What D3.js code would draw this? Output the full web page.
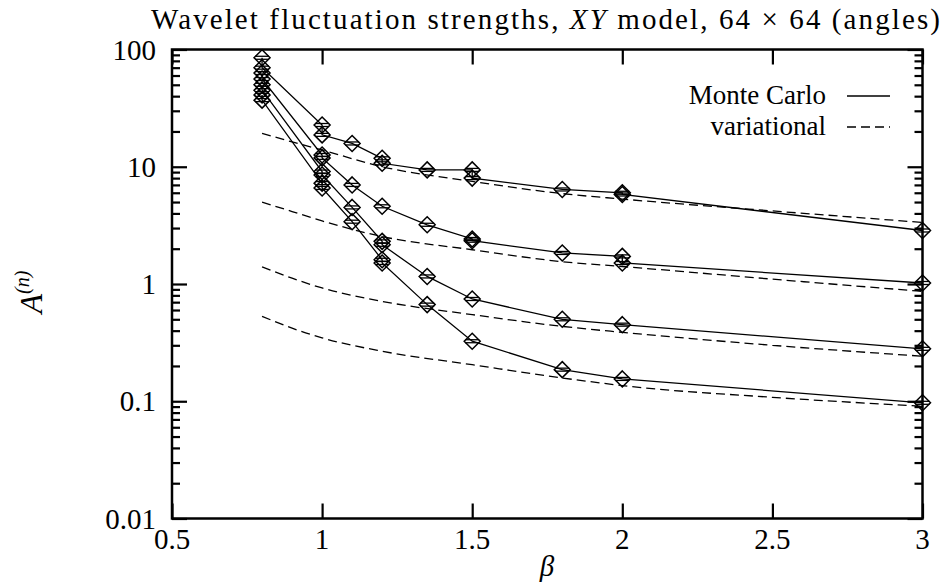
<!DOCTYPE html>
<html>
<head>
<meta charset="utf-8">
<script src="https://cdn.jsdelivr.net/npm/d3@7"></script>
<style>
  html, body { margin: 0; padding: 0; background: #ffffff; }
  svg { display: block; }
</style>
</head>
<body>
<div id="chart"></div>
<script>
// Monte Carlo points, one pair of arrays per mode n
const mc1Beta = [0.8, 0.8, 1.0, 1.0, 1.1, 1.2, 1.2, 1.35, 1.5, 1.5, 1.8, 2.0, 2.0, 3.0];
const mc1Val  = [85, 70, 22.7, 18.7, 15.8, 11.8, 10.7, 9.4, 9.4, 8.0, 6.4, 6.0, 5.8, 2.86];
const mc2Beta = [0.8, 0.8, 1.0, 1.0, 1.1, 1.2, 1.35, 1.5, 1.5, 1.8, 2.0, 2.0, 3.0];
const mc2Val  = [63, 56, 12.6, 11.9, 7.0, 4.6, 3.2, 2.42, 2.34, 1.84, 1.72, 1.51, 1.02];
const mc3Beta = [0.8, 0.8, 1.0, 1.0, 1.1, 1.2, 1.2, 1.35, 1.5, 1.8, 2.0, 3.0];
const mc3Val  = [50, 45, 9.1, 8.5, 4.5, 2.31, 2.16, 1.16, 0.745, 0.50, 0.45, 0.28];
const mc4Beta = [0.8, 0.8, 1.0, 1.0, 1.1, 1.2, 1.2, 1.35, 1.5, 1.8, 2.0, 3.0];
const mc4Val  = [41, 37, 7.25, 6.6, 3.4, 1.61, 1.51, 0.667, 0.325, 0.186, 0.155, 0.097];

// variational curves (dashed)
const varBeta = [0.8, 0.9, 1.0, 1.2, 1.5, 1.8, 2.0, 2.5, 3.0];
const var1 = [19.3, 16.3, 13.9, 10.0, 7.5, 5.9, 5.3, 4.2, 3.35];
const var2 = [5.0, 4.15, 3.45, 2.54, 1.96, 1.55, 1.41, 1.1, 0.865];
const var3 = [1.40, 1.12, 0.925, 0.711, 0.548, 0.435, 0.387, 0.30, 0.242];
const var4 = [0.53, 0.42, 0.347, 0.267, 0.205, 0.158, 0.136, 0.108, 0.0907];

const xTicks = [0.5, 1, 1.5, 2, 2.5, 3];
const xTickLabels = ["0.5", "1", "1.5", "2", "2.5", "3"];
const yTicks = [0.01, 0.1, 1, 10, 100];
const yTickLabels = ["0.01", "0.1", "1", "10", "100"];

const width = 948, height = 585;
const plotL = 172, plotR = 922.5, plotT = 49.5, plotB = 518.5;
const fontSize = 29;
const serif = "'Liberation Serif', 'Times New Roman', 'DejaVu Serif', serif";

const svg = d3.select("#chart").append("svg")
  .attr("width", width)
  .attr("height", height)
  .attr("font-family", serif)
  .style("font-family", serif);

const x = d3.scaleLinear().domain([0.5, 3]).range([plotL, plotR]);
const y = d3.scaleLog().domain([0.01, 100]).range([plotB, plotT]);

// minor log ticks
const yMinor = [];
y.ticks().forEach(t => { if (!yTicks.some(m => Math.abs(m - t) / m < 1e-6)) yMinor.push(t); });

function styleAxis(g) {
  g.select(".domain").remove();
  g.selectAll(".tick line").attr("stroke", "#000").attr("stroke-width", 2.2);
  g.selectAll(".tick text").remove();
}

svg.append("g").attr("transform", `translate(${plotL},0)`)
  .call(d3.axisLeft(y).tickValues(yTicks).tickSize(-15)).call(styleAxis);
svg.append("g").attr("transform", `translate(${plotL},0)`)
  .call(d3.axisLeft(y).tickValues(yMinor).tickSize(-8)).call(styleAxis);
svg.append("g").attr("transform", `translate(${plotR},0)`)
  .call(d3.axisRight(y).tickValues(yTicks).tickSize(-15)).call(styleAxis);
svg.append("g").attr("transform", `translate(${plotR},0)`)
  .call(d3.axisRight(y).tickValues(yMinor).tickSize(-8)).call(styleAxis);
svg.append("g").attr("transform", `translate(0,${plotB})`)
  .call(d3.axisBottom(x).tickValues(xTicks).tickSize(-15)).call(styleAxis);
svg.append("g").attr("transform", `translate(0,${plotT})`)
  .call(d3.axisTop(x).tickValues(xTicks).tickSize(-15)).call(styleAxis);

// frame
svg.append("rect")
  .attr("x", plotL).attr("y", plotT)
  .attr("width", plotR - plotL).attr("height", plotB - plotT)
  .attr("fill", "none").attr("stroke", "#000").attr("stroke-width", 2.5);

// tick labels
svg.append("g").selectAll("text")
  .data(yTicks)
  .join("text")
  .attr("font-family", serif)
  .attr("x", 156)
  .attr("y", d => y(d) + 10)
  .attr("text-anchor", "end")
  .attr("font-size", fontSize)
  .text((d, i) => yTickLabels[i]);

svg.append("g").selectAll("text")
  .data(xTicks)
  .join("text")
  .attr("font-family", serif)
  .attr("x", d => x(d))
  .attr("y", 549)
  .attr("text-anchor", "middle")
  .attr("font-size", fontSize)
  .text((d, i) => xTickLabels[i]);

// axis titles
svg.append("text")
  .attr("font-family", serif)
  .attr("x", 547).attr("y", 576)
  .attr("text-anchor", "middle")
  .attr("font-size", fontSize)
  .attr("font-style", "italic")
  .text("β");

const yl = svg.append("text")
  .attr("font-family", serif)
  .attr("transform", "translate(42,292) rotate(-90)")
  .attr("text-anchor", "middle")
  .attr("font-size", 32)
  .attr("font-style", "italic");
yl.append("tspan").text("A");
yl.append("tspan").attr("font-size", 20).attr("dy", -13).text("(n)");

// title
const title = svg.append("text")
  .attr("font-family", serif)
  .attr("x", 151).attr("y", 29)
  .attr("font-size", fontSize)
  .attr("textLength", 789)
  .attr("lengthAdjust", "spacing");
title.append("tspan").text("Wavelet fluctuation strengths, ");
title.append("tspan").attr("font-style", "italic").text("XY");
title.append("tspan").text(" model, 64 × 64 (angles)");

// variational curves
const line = d3.line().x(d => x(d[0])).y(d => y(d[1]));
const smooth = d3.line().x(d => x(d[0])).y(d => y(d[1])).curve(d3.curveMonotoneX);

[var1, var2, var3, var4].forEach(vals => {
  svg.append("path")
    .attr("d", smooth(varBeta.map((b, i) => [b, vals[i]])))
    .attr("fill", "none")
    .attr("stroke", "#000")
    .attr("stroke-width", 1.3)
    .attr("stroke-dasharray", "9,5");
});

// Monte Carlo lines and diamonds
const mcSeries = [
  [mc1Beta, mc1Val], [mc2Beta, mc2Val], [mc3Beta, mc3Val], [mc4Beta, mc4Val]
];

mcSeries.forEach(([betas, vals]) => {
  const pts = betas.map((b, i) => [b, vals[i]]);
  svg.append("path")
    .attr("d", line(pts))
    .attr("fill", "none")
    .attr("stroke", "#000")
    .attr("stroke-width", 1.3);

  const g = svg.append("g");
  pts.forEach(p => {
    const cx = x(p[0]), cy = y(p[1]);
    g.append("path")
      .attr("d", `M${cx},${cy - 8}L${cx + 8},${cy}L${cx},${cy + 8}L${cx - 8},${cy}Z`)
      .attr("fill", "none")
      .attr("stroke", "#000")
      .attr("stroke-width", 1.5);
    // error bar caps
    g.append("line")
      .attr("x1", cx - 7).attr("x2", cx + 7)
      .attr("y1", cy - 1.5).attr("y2", cy - 1.5)
      .attr("stroke", "#000").attr("stroke-width", 1.3);
    g.append("line")
      .attr("x1", cx - 7).attr("x2", cx + 7)
      .attr("y1", cy + 1.5).attr("y2", cy + 1.5)
      .attr("stroke", "#000").attr("stroke-width", 1.3);
  });
});

// legend
const legend = [
  { label: "Monte Carlo", y: 104, dash: null },
  { label: "variational", y: 135, dash: "9,5" }
];
legend.forEach(l => {
  svg.append("text")
    .attr("font-family", serif)
    .attr("x", 826).attr("y", l.y)
    .attr("text-anchor", "end")
    .attr("font-size", 27)
    .text(l.label);
  svg.append("line")
    .attr("x1", 847).attr("x2", 890)
    .attr("y1", l.y - 8).attr("y2", l.y - 8)
    .attr("stroke", "#000")
    .attr("stroke-width", 1.3)
    .attr("stroke-dasharray", l.dash);
});
</script>
</body>
</html>
